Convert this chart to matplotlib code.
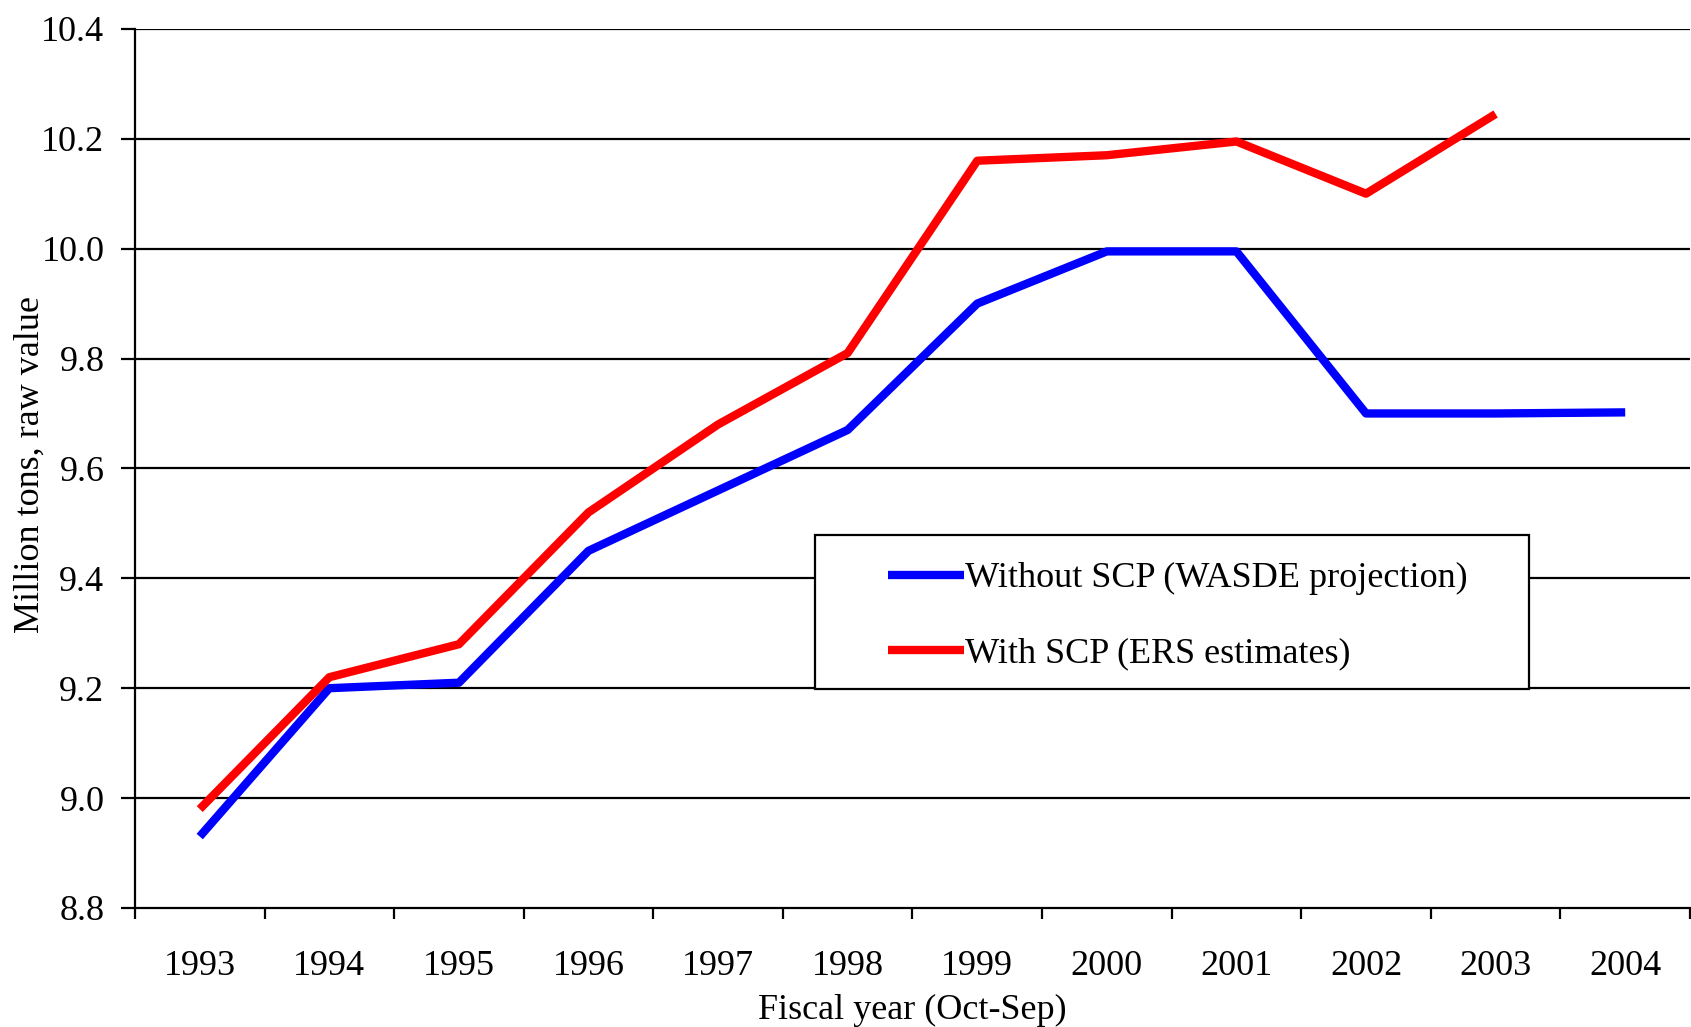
import matplotlib.pyplot as plt
from matplotlib.patches import Rectangle

plt.rcParams['font.family'] = ['Liberation Serif', 'DejaVu Serif']

years = ['1993', '1994', '1995', '1996', '1997', '1998',
         '1999', '2000', '2001', '2002', '2003', '2004']
without_scp = [8.93, 9.20, 9.21, 9.45, 9.56, 9.67, 9.90, 9.995, 9.995, 9.70, 9.70, 9.702]
with_scp = [8.98, 9.22, 9.28, 9.52, 9.68, 9.81, 10.16, 10.17, 10.195, 10.10, 10.245]
yticks = [8.8, 9.0, 9.2, 9.4, 9.6, 9.8, 10.0, 10.2, 10.4]

FS = 26

fig = plt.figure(figsize=(16.91, 10.27), dpi=100)
fig.patch.set_facecolor('white')
# axis runs past the right edge of the picture, as in the original
ax = fig.add_axes([0.0798, 0.1159, 0.9196, 0.856])

x1 = list(range(len(without_scp)))
x2 = list(range(len(with_scp)))
ax.plot(x1, without_scp, color='#0000ff', lw=6, solid_capstyle='butt',
        label='Without SCP (WASDE projection)', zorder=3)
ax.plot(x2, with_scp, color='#ff0000', lw=6, solid_capstyle='butt',
        label='With SCP (ERS estimates)', zorder=3)

ax.set_xlim(-0.5, len(years) - 0.5)
ax.set_ylim(8.8, 10.4)
ax.set_yticks(yticks)
ax.set_yticklabels([f'{v:.1f}' for v in yticks])
for v in yticks[1:]:
    ax.axhline(v, color='black', lw=1.6, zorder=1)

# category boundaries get the tick marks, labels sit in the middle
ax.set_xticks([i - 0.5 for i in range(len(years) + 1)])
ax.set_xticklabels([])
ax.set_xticks(range(len(years)), minor=True)
ax.set_xticklabels(years, minor=True)
ax.tick_params(axis='x', which='major', length=8, width=1.6, direction='out')
ax.tick_params(axis='x', which='minor', length=0, pad=30, labelsize=FS)
ax.tick_params(axis='y', length=10, width=1.6, direction='out', pad=12, labelsize=FS)

for s in ['top', 'right']:
    ax.spines[s].set_visible(False)
for s in ['left', 'bottom']:
    ax.spines[s].set_linewidth(1.6)

ax.set_ylabel('Million tons, raw value', fontsize=FS)
ax.yaxis.set_label_coords(-0.057, 0.504)
ax.set_xlabel('Fiscal year (Oct-Sep)', fontsize=FS, labelpad=0)
ax.xaxis.set_label_coords(0.5, -0.098)

# legend box, placed by hand
fig.patches.append(Rectangle((0.482, 0.329), 0.4222, 0.150,
                             transform=fig.transFigure, facecolor='white',
                             edgecolor='black', lw=1.6, zorder=4))
leg = fig.legend(loc='center left', bbox_to_anchor=(0.525, 0.400),
                 bbox_transform=fig.transFigure, fontsize=FS,
                 frameon=False, handlelength=2.1, handletextpad=0.05,
                 borderpad=0, labelspacing=1.15, borderaxespad=0)
leg.set_zorder(5)

plt.savefig('out.png', dpi=100, facecolor='white')
plt.close()
